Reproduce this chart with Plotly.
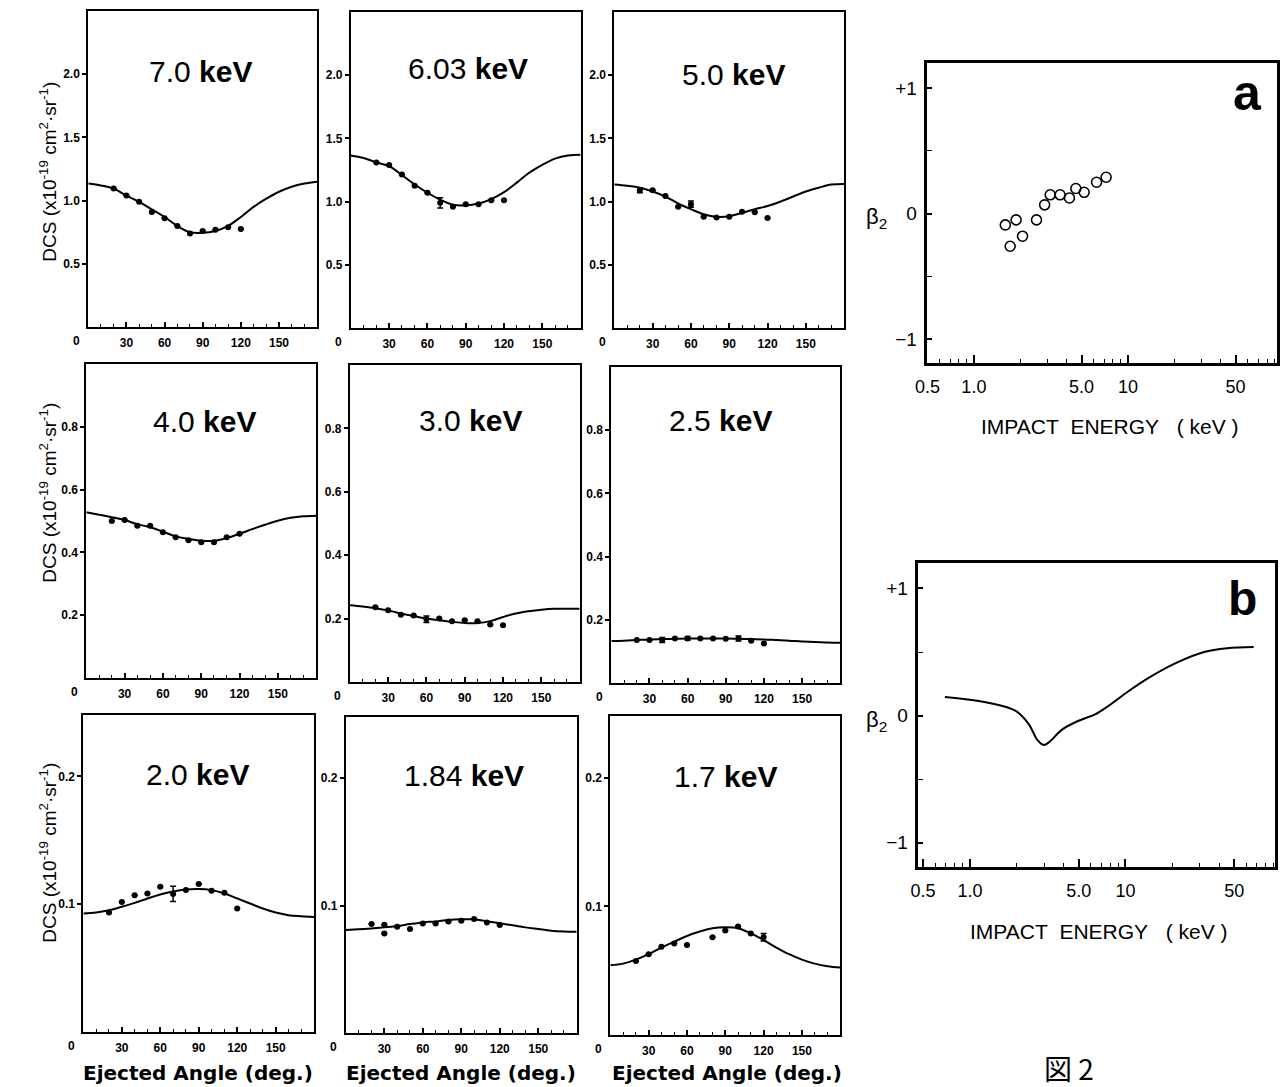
import math
import plotly.graph_objects as go

W, H = 1287, 1087


def px(x):
    return x / W


def py(y):
    return 1 - y / H


# ---------------- data ----------------
ENERGY_LABELS = ["7.0", "6.03", "5.0", "4.0", "3.0", "2.5", "2.0", "1.84", "1.7"]
CURVE_ANG = [0, 10, 20, 30, 40, 50, 60, 70, 80, 90, 100, 110, 120, 130, 140, 150, 160, 170, 180]
PT_ANG = [20, 30, 40, 50, 60, 70, 80, 90, 100, 110, 120]

curve_7p0 = [1.135, 1.12, 1.095, 1.04, 0.99, 0.93, 0.87, 0.80, 0.75, 0.745, 0.76, 0.80, 0.87, 0.95, 1.015, 1.07, 1.11, 1.135, 1.15]
pts_7p0 = [1.095, 1.04, 0.99, 0.91, 0.86, 0.80, 0.74, 0.76, 0.77, 0.79, 0.775]
err_7p0 = [0, 0, 0, 0, 0, 0, 0, 0, 0, 0, 0]

curve_6p03 = [1.365, 1.345, 1.31, 1.28, 1.21, 1.135, 1.07, 1.015, 0.975, 0.97, 0.985, 1.02, 1.075, 1.15, 1.23, 1.29, 1.34, 1.365, 1.37]
pts_6p03 = [1.31, 1.29, 1.215, 1.125, 1.07, 0.99, 0.96, 0.98, 0.98, 1.01, 1.01]
err_6p03 = [0, 0, 0, 0, 0, 0.04, 0, 0, 0, 0, 0]

curve_5p0 = [1.135, 1.125, 1.11, 1.08, 1.04, 0.985, 0.94, 0.90, 0.88, 0.885, 0.91, 0.94, 0.965, 1.0, 1.04, 1.08, 1.11, 1.135, 1.14]
pts_5p0 = [1.09, 1.09, 1.045, 0.96, 0.98, 0.88, 0.875, 0.88, 0.92, 0.915, 0.87]
err_5p0 = [0.02, 0, 0, 0, 0.025, 0, 0, 0, 0, 0, 0]

curve_4p0 = [0.528, 0.52, 0.512, 0.503, 0.49, 0.48, 0.466, 0.451, 0.443, 0.437, 0.437, 0.446, 0.459, 0.474, 0.488, 0.501, 0.51, 0.515, 0.517]
pts_4p0 = [0.50, 0.503, 0.485, 0.485, 0.464, 0.448, 0.439, 0.432, 0.432, 0.448, 0.459]
err_4p0 = [0, 0, 0, 0, 0, 0, 0, 0, 0, 0, 0]

curve_3p0 = [0.242, 0.238, 0.233, 0.226, 0.216, 0.208, 0.2, 0.195, 0.19, 0.186, 0.186, 0.192, 0.205, 0.216, 0.223, 0.228, 0.231, 0.231, 0.231]
pts_3p0 = [0.236, 0.226, 0.212, 0.21, 0.198, 0.2, 0.192, 0.195, 0.192, 0.181, 0.179]
err_3p0 = [0, 0, 0, 0, 0.01, 0, 0, 0, 0, 0, 0]

curve_2p5 = [0.133, 0.134, 0.136, 0.138, 0.139, 0.14, 0.141, 0.141, 0.141, 0.141, 0.14, 0.139, 0.138, 0.136, 0.134, 0.131, 0.13, 0.128, 0.127]
pts_2p5 = [0.136, 0.136, 0.136, 0.141, 0.141, 0.141, 0.141, 0.14, 0.141, 0.134, 0.125]
err_2p5 = [0, 0, 0.008, 0, 0.006, 0, 0, 0, 0.008, 0, 0]

curve_2p0 = [0.0927, 0.0935, 0.0953, 0.098, 0.101, 0.1045, 0.1076, 0.110, 0.1115, 0.1118, 0.111, 0.1084, 0.1045, 0.1005, 0.0966, 0.0935, 0.0914, 0.0906, 0.090]
pts_2p0 = [0.0935, 0.1018, 0.107, 0.1084, 0.1136, 0.108, 0.111, 0.1157, 0.1105, 0.109, 0.0966]
err_2p0 = [0, 0, 0, 0, 0, 0.006, 0, 0, 0, 0, 0]

curve_1p84 = [0.0808, 0.0814, 0.0821, 0.0829, 0.084, 0.0855, 0.0868, 0.0876, 0.0887, 0.0892, 0.0892, 0.0876, 0.0861, 0.0845, 0.0829, 0.0816, 0.0803, 0.0797, 0.0795]
ang_1p84 = [20, 30, 30, 40, 50, 60, 70, 80, 90, 100, 110, 120]
pts_1p84 = [0.0855, 0.085, 0.078, 0.0834, 0.0816, 0.086, 0.086, 0.0876, 0.088, 0.0895, 0.0868, 0.0847]
err_1p84 = [0, 0, 0, 0, 0, 0, 0, 0, 0, 0, 0, 0]

curve_1p7 = [0.0542, 0.0555, 0.0586, 0.0628, 0.068, 0.0725, 0.077, 0.0804, 0.083, 0.0838, 0.083, 0.079, 0.0738, 0.068, 0.0628, 0.0586, 0.0555, 0.0534, 0.0524]
ang_1p7 = [20, 30, 40, 50, 60, 80, 90, 100, 110, 120]
pts_1p7 = [0.0576, 0.0628, 0.0686, 0.0712, 0.0699, 0.0759, 0.0812, 0.0843, 0.079, 0.076]
err_1p7 = [0, 0, 0, 0, 0, 0, 0, 0, 0, 0.003]

CURVES = [curve_7p0, curve_6p03, curve_5p0, curve_4p0, curve_3p0, curve_2p5, curve_2p0, curve_1p84, curve_1p7]
PT_ANGLES = [PT_ANG] * 7 + [ang_1p84, ang_1p7]
POINTS = [pts_7p0, pts_6p03, pts_5p0, pts_4p0, pts_3p0, pts_2p5, pts_2p0, pts_1p84, pts_1p7]
ERRORS = [err_7p0, err_6p03, err_5p0, err_4p0, err_3p0, err_2p5, err_2p0, err_1p84, err_1p7]

ROW_YRANGE = [[0, 2.5], [0, 1.0], [0, 0.248]]
ROW_YTICKS = [[0.5, 1.0, 1.5, 2.0], [0.2, 0.4, 0.6, 0.8], [0.1, 0.2]]
ROW_YTICKTEXT = [["0.5", "1.0", "1.5", "2.0"], ["0.2", "0.4", "0.6", "0.8"], ["0.1", "0.2"]]
X_TICKS = [30, 60, 90, 120, 150]
X_TICKTEXT = ["30", "60", "90", "120", "150"]
X_MINOR = [10, 20, 40, 50, 70, 80, 100, 110, 130, 140, 160, 170]

# beta_2 panels
energy_a = [1.60, 1.72, 1.88, 2.07, 2.55, 2.88, 3.13, 3.63, 4.17, 4.59, 5.2, 6.26, 7.22]
beta_a = [-0.09, -0.26, -0.05, -0.18, -0.05, 0.07, 0.15, 0.15, 0.125, 0.20, 0.17, 0.25, 0.29]
energy_b = [0.69, 1.33, 1.97, 2.4, 2.71, 2.99, 3.22, 3.91, 5.0, 6.38, 7.76, 10.4, 14.7, 21.7, 32, 45, 66.7]
beta_b = [0.147, 0.10, 0.037, -0.07, -0.19, -0.23, -0.21, -0.11, -0.04, 0.01, 0.076, 0.19, 0.31, 0.42, 0.50, 0.53, 0.54]
E_TICKS = [0.5, 1, 5, 10, 50]
E_TICKTEXT = ["0.5", "1.0", "5.0", "10", "50"]
E_MINOR = [0.6, 0.7, 0.8, 0.9, 2, 3, 4, 6, 7, 8, 9, 20, 30, 40, 60, 70, 80, 90]
B_TICKS = [-1, 0, 1]
B_TICKTEXT = ["\u22121", "0", "+1"]

# ---------------- layout geometry (pixels) ----------------
BOX = [
    (77, 308, 11, 327), (342, 574, 12, 328), (608, 840, 12, 328),
    (75, 307, 364, 678), (341, 573, 365, 682), (605, 836, 367, 683),
    (72, 305, 715, 1032), (337, 570, 717, 1033), (604, 836, 716, 1035),
]
TITLE_POS = [(190, 71), (460, 68), (728, 75), (194, 421), (463, 420), (715, 420),
             (187, 774), (456, 775), (720, 776)]
BOX_A = (924, 1277, 63, 363)
BOX_B = (915, 1275, 563, 867)

FONT = "Liberation Sans"
fig = go.Figure()
layout = dict(
    width=W, height=H, margin=dict(l=0, r=0, t=0, b=0),
    paper_bgcolor="white", plot_bgcolor="white", showlegend=False,
    font=dict(family=FONT, color="black"),
)
annotations = []

for i in range(9):
    n = i + 1
    xs = "x" if n == 1 else f"x{n}"
    ys = "y" if n == 1 else f"y{n}"
    l, r, t, b = BOX[i]
    row = i // 3
    fig.add_trace(go.Scatter(x=CURVE_ANG, y=CURVES[i], mode="lines", line=dict(color="black", width=2, shape="spline"),
                             xaxis=xs, yaxis=ys, hoverinfo="skip"))
    fig.add_trace(go.Scatter(x=PT_ANGLES[i], y=POINTS[i], mode="markers",
                             marker=dict(color="black", size=6),
                             error_y=dict(type="data", array=ERRORS[i], visible=True, color="black", thickness=1.5, width=3),
                             xaxis=xs, yaxis=ys))
    layout[f"xaxis{'' if n == 1 else n}"] = dict(
        domain=[px(l), px(r)], anchor=ys, range=[0, 180], showgrid=False, zeroline=False,
        showline=True, linecolor="black", linewidth=2, mirror=True,
        ticks="inside", ticklen=5, tickwidth=1.5, tickcolor="black",
        tickvals=X_TICKS, ticktext=X_TICKTEXT, ticklabelstandoff=4,
        tickfont=dict(size=12, family=FONT, weight="bold"),
        minor=dict(tickvals=X_MINOR, ticks="inside", ticklen=3, tickwidth=1.2, tickcolor="black"),
    )
    layout[f"yaxis{'' if n == 1 else n}"] = dict(
        domain=[py(b), py(t)], anchor=xs, range=ROW_YRANGE[row], showgrid=False, zeroline=False,
        showline=True, linecolor="black", linewidth=2, mirror=True,
        ticks="outside", ticklen=4, tickwidth=1.5, tickcolor="black",
        tickvals=ROW_YTICKS[row], ticktext=ROW_YTICKTEXT[row],
        tickfont=dict(size=12, family=FONT, weight="bold"),
    )
    tx, ty = TITLE_POS[i]
    annotations.append(dict(x=px(tx), y=py(ty), xref="paper", yref="paper", showarrow=False,
                            text=f"{ENERGY_LABELS[i]} <b>keV</b>", font=dict(size=30, family=FONT),
                            xanchor="center", yanchor="middle"))
    annotations.append(dict(x=px(l - 12), y=py(b + 14), xref="paper", yref="paper", showarrow=False,
                            text="0", font=dict(size=12, family=FONT, weight="bold"),
                            xanchor="center", yanchor="middle"))

# DCS y labels
for yc in [172, 493, 853]:
    annotations.append(dict(x=px(36), y=py(yc), xref="paper", yref="paper", showarrow=False, textangle=-90,
                            text="DCS (x10<sup>-19</sup> cm<sup>2</sup>\u00b7sr<sup>-1</sup>)",
                            font=dict(size=19, family=FONT), xanchor="center", yanchor="middle"))
# Ejected angle labels
for xc in [188, 453, 722]:
    annotations.append(dict(x=px(xc), y=py(1073), xref="paper", yref="paper", showarrow=False,
                            text="Ejected Angle (deg.)", font=dict(size=20, family="DejaVu Sans", weight="bold"),
                            xanchor="center", yanchor="middle"))

# beta panels
fig.add_trace(go.Scatter(x=energy_a, y=beta_a, mode="markers",
                         marker=dict(symbol="circle-open", size=10, color="black", line=dict(width=1.6)),
                         xaxis="x10", yaxis="y10"))
fig.add_trace(go.Scatter(x=energy_b, y=beta_b, mode="lines", line=dict(color="black", width=2, shape="spline"),
                         xaxis="x11", yaxis="y11"))

for n, box, lo, hi in [(10, BOX_A, 0.499, 93), (11, BOX_B, 0.467, 91.6)]:
    l, r, t, b = box
    layout[f"xaxis{n}"] = dict(
        domain=[px(l), px(r)], anchor=f"y{n}", type="log", range=[math.log10(lo), math.log10(hi)],
        showgrid=False, zeroline=False, showline=True, linecolor="black", linewidth=2.5, mirror=True,
        ticks="inside", ticklen=8, tickwidth=1.5, tickcolor="black",
        tickvals=E_TICKS, ticktext=E_TICKTEXT, ticklabelstandoff=6,
        tickfont=dict(size=18, family=FONT),
        minor=dict(tickvals=E_MINOR, ticks="inside", ticklen=4, tickwidth=1.3, tickcolor="black"),
    )
    layout[f"yaxis{n}"] = dict(
        domain=[py(b), py(t)], anchor=f"x{n}", range=[-1.19, 1.2], showgrid=False, zeroline=False,
        showline=True, linecolor="black", linewidth=2.5, mirror=True,
        ticks="inside", ticklen=5, tickwidth=1.5, tickcolor="black",
        tickvals=B_TICKS, ticktext=B_TICKTEXT, ticklabelstandoff=4,
        tickfont=dict(size=19, family=FONT),
        minor=dict(tickvals=[-0.5, 0.5], ticks="inside", ticklen=5, tickwidth=1.3, tickcolor="black"),
    )

for yc in [218, 721]:
    annotations.append(dict(x=px(873), y=py(yc), xref="paper", yref="paper", showarrow=False,
                            text="\u03b2<sub>2</sub>", font=dict(size=22, family=FONT),
                            xanchor="center", yanchor="middle"))
for xc, yc in [(1108, 427), (1097, 931)]:
    annotations.append(dict(x=px(xc), y=py(yc), xref="paper", yref="paper", showarrow=False,
                            text="IMPACT\u00a0\u00a0ENERGY\u00a0\u00a0\u00a0(\u00a0keV\u00a0)",
                            font=dict(size=21, family=FONT), xanchor="center", yanchor="middle"))
annotations.append(dict(x=px(1247), y=py(93), xref="paper", yref="paper", showarrow=False, text="<b>a</b>",
                        font=dict(size=50, family=FONT), xanchor="center", yanchor="middle"))
annotations.append(dict(x=px(1242), y=py(598), xref="paper", yref="paper", showarrow=False, text="<b>b</b>",
                        font=dict(size=48, family=FONT), xanchor="center", yanchor="middle"))
annotations.append(dict(x=px(1067), y=py(1068), xref="paper", yref="paper", showarrow=False, text="図 2",
                        font=dict(size=28, family="Noto Sans CJK JP"), xanchor="center", yanchor="middle"))

layout["annotations"] = annotations
fig.update_layout(**layout)
fig.write_html(
    "out.html",
    config={"displayModeBar": False},
    post_script="document.body.style.margin='0';document.body.style.overflow='hidden';",
)
